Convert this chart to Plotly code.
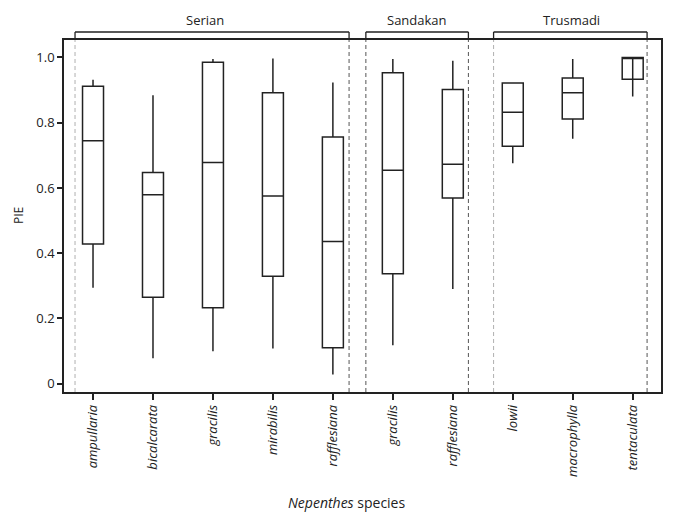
import plotly.graph_objects as go

species = ["ampullaria", "bicalcarata", "gracilis", "mirabilis", "rafflesiana",
           "gracilis", "rafflesiana", "lowii", "macrophylla", "tentaculata"]
lower = [0.294, 0.078, 0.099, 0.108, 0.028, 0.118, 0.290, 0.676, 0.751, 0.880]
q1 = [0.428, 0.265, 0.233, 0.329, 0.110, 0.337, 0.569, 0.728, 0.811, 0.933]
median = [0.745, 0.579, 0.678, 0.575, 0.436, 0.654, 0.673, 0.832, 0.892, 1.000]
q3 = [0.912, 0.647, 0.985, 0.892, 0.756, 0.953, 0.902, 0.922, 0.937, 1.000]
upper = [0.932, 0.884, 0.995, 0.997, 0.923, 0.995, 0.990, 0.922, 0.995, 1.000]

groups = ["Serian", "Sandakan", "Trusmadi"]
group_start = [-0.30, 4.55, 6.68]
group_end = [4.27, 6.26, 9.24]
group_label_x = [1.865, 5.40, 7.975]
group_start_color = ["#b0b0b0", "#555555", "#b0b0b0"]
group_end_color = ["#555555", "#555555", "#555555"]

yticks = [0, 0.2, 0.4, 0.6, 0.8, 1.0]
ytick_text = ["0", "0.2", "0.4", "0.6", "0.8", "1.0"]

FONT = "Open Sans"
INK = "#222222"
pos = list(range(len(species)))

fig = go.Figure()
fig.add_trace(go.Box(
    x=pos, q1=q1, median=median, q3=q3, lowerfence=lower, upperfence=upper,
    width=0.35, whiskerwidth=0, fillcolor="white",
    line=dict(color=INK, width=1.5), boxpoints=False, showlegend=False,
    hoverinfo="skip",
))
# whisker drawn through the tentaculata box in the original
last = len(species) - 1
fig.add_trace(go.Scatter(
    x=[pos[last], pos[last]], y=[q1[last], q3[last]], mode="lines",
    line=dict(color=INK, width=1.5), showlegend=False, hoverinfo="skip",
))

shapes = []
annotations = []
for g, s, e, lx, cs, ce in zip(groups, group_start, group_end, group_label_x,
                               group_start_color, group_end_color):
    for xv, col in ((s, cs), (e, ce)):
        shapes.append(dict(type="line", xref="x", yref="paper", x0=xv, x1=xv, y0=0, y1=1,
                           line=dict(color=col, width=1, dash="4px,3px")))
    # bracket
    shapes.append(dict(type="line", xref="x", yref="paper", x0=s, x1=e, y0=1.0227, y1=1.0227,
                       line=dict(color=INK, width=1.3)))
    for xv in (s, e):
        shapes.append(dict(type="line", xref="x", yref="paper", x0=xv, x1=xv, y0=1.0, y1=1.0227,
                           line=dict(color=INK, width=1.3)))
    annotations.append(dict(text=g, xref="x", yref="paper", x=lx, y=1.058,
                            showarrow=False, xanchor="center", yanchor="middle",
                            font=dict(family=FONT, size=13, color=INK)))

annotations.append(dict(text="PIE", xref="paper", yref="paper", x=-0.077, y=0.5, textangle=-90,
                        showarrow=False, xanchor="center", yanchor="middle",
                        font=dict(family=FONT, size=12, color=INK)))
annotations.append(dict(text="<i>Nepenthes</i> species", xref="paper", yref="paper", x=0.473, y=-0.313,
                        showarrow=False, xanchor="center", yanchor="middle",
                        font=dict(family=FONT, size=14, color=INK)))

# the page body adds an 8px margin, so the figure is sized to fit inside the window
fig.update_layout(
    width=667, height=515,
    margin=dict(l=56, r=14, t=32, b=131),
    plot_bgcolor="white", paper_bgcolor="white",
    shapes=shapes, annotations=annotations,
    font=dict(family=FONT, size=13, color=INK),
    showlegend=False,
)
fig.update_xaxes(
    range=[-0.484, 9.472], tickvals=pos, ticktext=["<i>%s</i>" % s for s in species],
    tickangle=-90, ticks="outside", ticklen=6, tickwidth=1.5, tickcolor=INK,
    showline=True, mirror=True, linecolor=INK, linewidth=1.5, showgrid=False, zeroline=False,
    tickfont=dict(family=FONT, size=13, color=INK),
)
fig.update_yaxes(
    range=[-0.0257, 1.0536], tickvals=yticks, ticktext=ytick_text,
    ticks="outside", ticklen=5, tickwidth=1.5, tickcolor=INK,
    showline=True, mirror=True, linecolor=INK, linewidth=1.5, showgrid=False, zeroline=False,
    tickfont=dict(family=FONT, size=13, color=INK),
)
fig.write_html("out.html")
